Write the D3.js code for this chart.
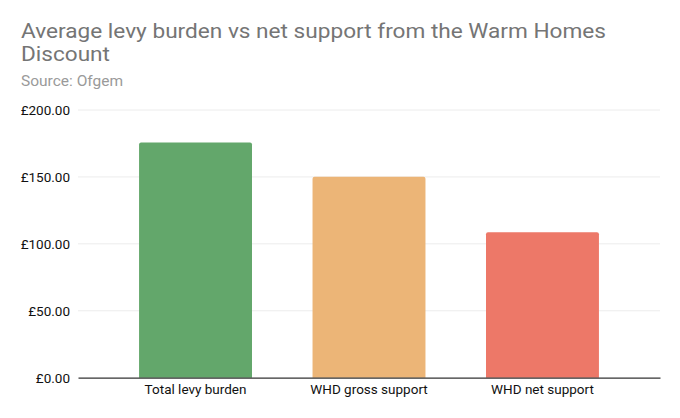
<!DOCTYPE html>
<html>
<head>
<meta charset="utf-8">
<script src="https://cdn.jsdelivr.net/npm/d3@7"></script>
<style>
  body { margin: 0; background: #fff; }
  svg { display: block; font-family: Roboto, "Noto Sans", sans-serif; }
</style>
</head>
<body>
<svg id="chart" width="680" height="418"></svg>
<script>
// Chart data
const categories = ['Total levy burden', 'WHD gross support', 'WHD net support'];
const values = [175.7, 150.2, 108.6];
const barColors = ['#63a76b', '#ecb577', '#ed7868'];
const yTicks = [0, 50, 100, 150, 200];

const svg = d3.select('#chart');

// Plot area
const margin = { top: 110, left: 78, right: 20, bottom: 40 };
const width = 680;
const height = 418;
const innerBottom = 377.7;

// Title and subtitle
svg.append('text')
    .attr('x', 21).attr('y', 37.5)
    .attr('fill', '#757575')
    .attr('textLength', 585)
    .attr('lengthAdjust', 'spacingAndGlyphs')
    .style('font-size', '19.5px')
    .text('Average levy burden vs net support from the Warm Homes');
svg.append('text')
    .attr('x', 21).attr('y', 61)
    .attr('fill', '#757575')
    .attr('textLength', 89)
    .attr('lengthAdjust', 'spacingAndGlyphs')
    .style('font-size', '19.5px')
    .text('Discount');
svg.append('text')
    .attr('x', 21).attr('y', 86)
    .attr('fill', '#9a9a9a')
    .style('font-size', '15.5px')
    .text('Source: Ofgem');

// Scales
const xScale = d3.scaleBand()
    .domain(categories)
    .range([margin.left, width - margin.right])
    .paddingInner(0.349)
    .paddingOuter(0.352);

const yScale = d3.scaleLinear()
    .domain([0, 200])
    .range([innerBottom, margin.top]);

// Gridlines
svg.append('g')
    .selectAll('line')
    .data(yTicks.filter(d => d > 0))
    .join('line')
    .attr('x1', margin.left)
    .attr('x2', width - margin.right)
    .attr('y1', d => yScale(d))
    .attr('y2', d => yScale(d))
    .attr('stroke', '#ececec')
    .attr('stroke-width', 1);

// Y axis labels
const yAxis = svg.append('g')
    .attr('transform', `translate(${margin.left},0)`)
    .call(d3.axisLeft(yScale).tickValues(yTicks).tickSize(0).tickPadding(8)
        .tickFormat(d => '£' + d3.format('.2f')(d)));
yAxis.select('.domain').remove();
yAxis.selectAll('text')
    .attr('fill', '#111')
    .style('font-size', '13.5px')
    .style('font-family', 'Roboto, sans-serif');

// Bars
svg.append('g')
    .selectAll('path')
    .data(categories)
    .join('path')
    .attr('d', (d, i) => {
        const x0 = xScale(d);
        const w = xScale.bandwidth();
        const y0 = yScale(values[i]);
        const r = 2;
        return `M${x0},${innerBottom}V${y0 + r}Q${x0},${y0} ${x0 + r},${y0}` +
            `H${x0 + w - r}Q${x0 + w},${y0} ${x0 + w},${y0 + r}V${innerBottom}Z`;
    })
    .attr('fill', (d, i) => barColors[i]);

// X axis
const xAxis = svg.append('g')
    .attr('transform', `translate(0,${innerBottom})`)
    .call(d3.axisBottom(xScale).tickSize(0).tickPadding(7));
xAxis.select('.domain')
    .attr('stroke', '#333')
    .attr('stroke-width', 1.2);
xAxis.selectAll('text')
    .attr('fill', '#111')
    .style('font-size', '13.5px')
    .style('font-family', 'Roboto, sans-serif');
</script>
</body>
</html>
